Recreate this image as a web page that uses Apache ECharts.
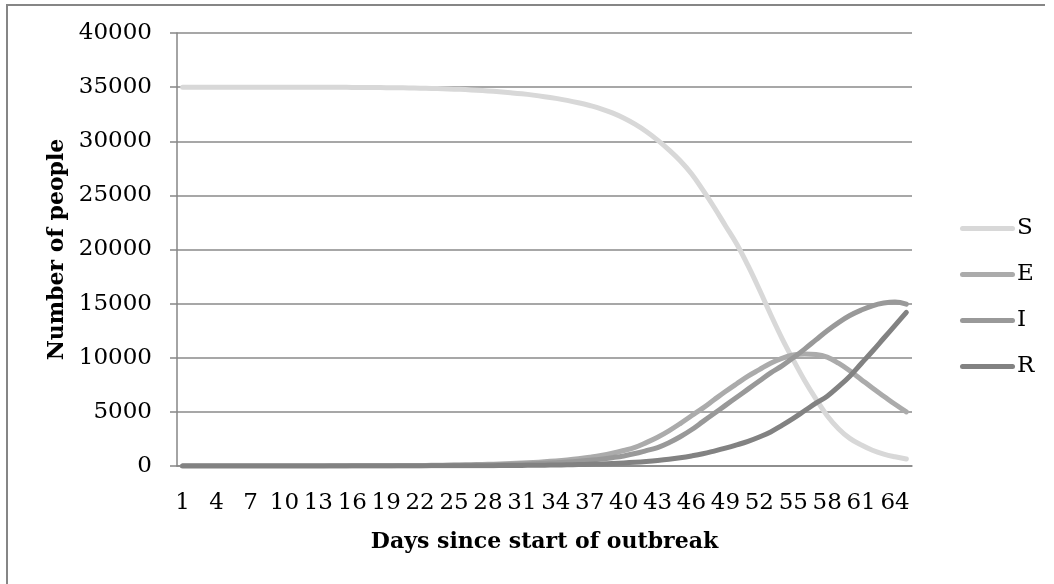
<!DOCTYPE html>
<html>
<head>
<meta charset="utf-8">
<script src="https://cdn.jsdelivr.net/npm/echarts@6/dist/echarts.min.js"></script>
<style>
html, body { margin: 0; padding: 0; background: #fff; }
#chart { width: 1054px; height: 584px; }
</style>
</head>
<body>
<div id="chart"></div>
<script>
var days = ['1','2','3','4','5','6','7','8','9','10','11','12','13','14','15','16','17','18','19','20',
	'21','22','23','24','25','26','27','28','29','30','31','32','33','34','35','36','37','38','39','40',
	'41','42','43','44','45','46','47','48','49','50','51','52','53','54','55','56','57','58','59','60',
	'61','62','63','64','65'];

// susceptible
var sData = [35000,35000,35000,35000,34999,34999,34998,34997,34996,34995,34993,34991,34988,34985,34981,
	34976,34970,34962,34952,34940,34925,34905,34880,34850,34815,34770,34715,34650,34570,34480,
	34380,34260,34120,33960,33780,33560,33300,33000,32620,32150,31580,30900,30100,29200,28200,
	27000,25500,23900,22200,20500,18500,16300,14000,11800,9800,7900,6200,4650,3450,2550,
	1950,1450,1100,850,650];

// exposed
var eData = [1,1,1,2,2,3,3,4,5,6,7,9,10,12,15,18,21,25,30,36,
	44,53,63,76,91,109,131,157,189,227,272,327,392,470,564,677,815,975,1180,1430,
	1720,2160,2660,3250,3920,4640,5350,6120,6880,7600,8300,8900,9500,9950,10250,10350,10300,10050,9500,8800,
	8000,7200,6450,5700,5000];

// infectious
var iData = [0,0,1,1,1,2,2,3,3,4,5,6,7,8,10,12,14,16,20,23,
	29,34,41,49,59,71,85,102,123,148,177,213,255,306,367,440,530,635,770,930,
	1150,1420,1700,2150,2700,3350,4100,4850,5600,6350,7100,7850,8600,9250,10000,10800,11650,12500,13250,13900,
	14400,14800,15050,15150,14950];

// recovered
var rData = [0,0,0,0,0,0,1,1,1,1,1,2,2,2,3,3,4,5,6,7,
	8,10,12,14,17,21,25,30,37,44,53,64,77,93,112,135,162,195,235,285,
	345,420,510,620,760,930,1130,1380,1650,1950,2280,2680,3150,3750,4400,5100,5800,6450,7330,8300,
	9450,10600,11800,13000,14200];

var seriesNames = ['S', 'E', 'I', 'R'];
var seriesColors = ['#d8d8d8', '#ababab', '#999999', '#828282'];

var myChart = echarts.init(document.getElementById('chart'));

var fontNum = 'DejaVu Serif';
// capsule shaped legend key, like a thick line with round ends
var legendIcon = 'path://M2.5,0 L52.5,0 A2.5,2.5 0 0 1 52.5,5 L2.5,5 A2.5,2.5 0 0 1 2.5,0 Z';

function makeSeries(name, data, color) {
	return {
		name : name,
		type : 'line',
		data : data,
		smooth : 0.4,
		symbol : 'none',
		lineStyle : {
			color : color,
			width : 5,
			cap : 'round',
			join : 'round'
		},
		itemStyle : { color : color },
		z : 3
	};
}

var option = {
	backgroundColor : '#fff',
	animation : false,
	grid : {
		left : 177,
		right : 142,
		top : 33,
		bottom : 118
	},
	legend : {
		orient : 'vertical',
		left : 960,
		top : 217,
		padding : 0,
		itemWidth : 55,
		itemHeight : 5,
		itemGap : 23,
		icon : legendIcon,
		itemStyle : { borderWidth : 0 },
		data : seriesNames,
		textStyle : {
			fontFamily : fontNum,
			fontSize : 23,
			lineHeight : 22,
			color : '#000',
			padding : [0, 0, 0, -3]
		}
	},
	xAxis : {
		type : 'category',
		data : days,
		boundaryGap : true,
		name : 'Days since start of outbreak',
		nameLocation : 'middle',
		nameGap : 65,
		nameTextStyle : {
			fontFamily : fontNum,
			fontWeight : 'bold',
			fontSize : 22,
			color : '#000'
		},
		axisLine : { lineStyle : { color : '#868686', width : 1.5 } },
		axisTick : {
			interval : 0,
			length : 7,
			lineStyle : { color : '#868686', width : 1.5 }
		},
		axisLabel : {
			interval : 2,
			margin : 26,
			fontFamily : fontNum,
			fontSize : 23,
			color : '#000'
		},
		splitLine : { show : false }
	},
	yAxis : {
		type : 'value',
		min : 0,
		max : 40000,
		interval : 5000,
		name : 'Number of people',
		nameLocation : 'middle',
		nameGap : 102,
		nameTextStyle : {
			fontFamily : fontNum,
			fontWeight : 'bold',
			fontSize : 22,
			color : '#000'
		},
		axisLine : { show : true, lineStyle : { color : '#868686', width : 1.5 } },
		axisTick : { show : true, length : 7, lineStyle : { color : '#868686', width : 1.5 } },
		axisLabel : {
			margin : 25,
			fontFamily : fontNum,
			fontSize : 23,
			color : '#000',
			formatter : function(v) { return String(v); }
		},
		splitLine : { lineStyle : { color : '#8a8a8a', width : 1.5 } }
	},
	graphic : [{
		type : 'polyline',
		shape : { points : [[7, 584], [7, 5], [1045, 5]] },
		style : { stroke : '#868686', lineWidth : 2, fill : null },
		silent : true
	}],
	series : [
		makeSeries('S', sData, seriesColors[0]),
		makeSeries('E', eData, seriesColors[1]),
		makeSeries('I', iData, seriesColors[2]),
		makeSeries('R', rData, seriesColors[3])
	]
};

myChart.setOption(option);
</script>
</body>
</html>
